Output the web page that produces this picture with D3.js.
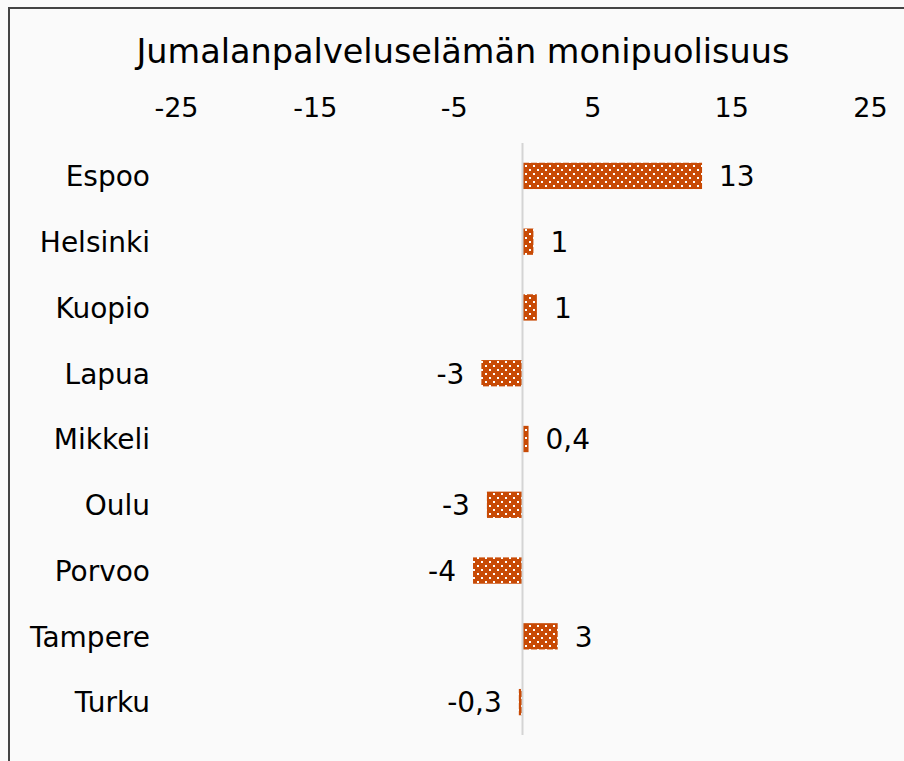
<!DOCTYPE html>
<html lang="fi">
<head>
    <meta charset="UTF-8">
    <title>Jumalanpalveluselämän monipuolisuus</title>
    <script src="https://d3js.org/d3.v7.min.js"></script>
    <style>
        html, body {
            margin: 0;
            padding: 0;
            background: #fafafa;
            overflow: hidden;
        }
        svg text {
            font-family: "DejaVu Sans", Verdana, sans-serif;
            fill: #000;
        }
    </style>
</head>
<body>
    <svg id="chart" width="904" height="761"></svg>

    <script>
        // Data
        const cities = ["Espoo", "Helsinki", "Kuopio", "Lapua", "Mikkeli", "Oulu", "Porvoo", "Tampere", "Turku"];
        const values = [12.9, 0.75, 1.0, -3.0, 0.4, -2.6, -3.6, 2.5, -0.3];
        const valueLabels = ["13", "1", "1", "-3", "0,4", "-3", "-4", "3", "-0,3"];
        const xTicks = [-25, -15, -5, 5, 15, 25];
        const title = "Jumalanpalveluselämän monipuolisuus";

        const data = cities.map((c, i) => ({ city: c, value: values[i], label: valueLabels[i] }));

        const svg = d3.select("#chart");

        // Outer frame (right and bottom edges fall outside the picture)
        svg.append("rect")
            .attr("x", 9)
            .attr("y", 8)
            .attr("width", 1000)
            .attr("height", 1000)
            .attr("fill", "#fafafa")
            .attr("stroke", "#444")
            .attr("stroke-width", 2);

        // Dotted fill for the bars
        const pattern = svg.append("defs").append("pattern")
            .attr("id", "dots")
            .attr("patternUnits", "userSpaceOnUse")
            .attr("width", 8)
            .attr("height", 8);
        pattern.append("rect").attr("width", 8).attr("height", 8).attr("fill", "#c84a05");
        pattern.append("rect").attr("x", 1).attr("y", 1).attr("width", 2).attr("height", 2).attr("fill", "#fff");
        pattern.append("rect").attr("x", 5).attr("y", 5).attr("width", 2).attr("height", 2).attr("fill", "#fff");

        // Scales
        const x = d3.scaleLinear().domain([-25, 25]).range([176, 870]);
        const y = d3.scaleBand().domain(cities).range([143, 735]).paddingInner(0.6).paddingOuter(0.3);

        // Title
        svg.append("text")
            .attr("x", 463)
            .attr("y", 63)
            .attr("text-anchor", "middle")
            .style("font-size", "33.5px")
            .text(title);

        // Top value axis (labels only)
        const xAxis = svg.append("g")
            .attr("transform", "translate(0,117)")
            .call(d3.axisTop(x).tickValues(xTicks).tickSize(0).tickPadding(0).tickFormat(d => d));
        xAxis.select(".domain").remove();
        xAxis.selectAll("text")
            .attr("dy", 0)
            .style("font-size", "27px")
            .style("font-family", "'DejaVu Sans', Verdana, sans-serif")
            .attr("fill", "#000");

        // Category axis
        const yAxis = svg.append("g")
            .attr("transform", "translate(150,0)")
            .call(d3.axisLeft(y).tickSize(0).tickPadding(0));
        yAxis.select(".domain").remove();
        yAxis.selectAll("text")
            .attr("dy", "0.37em")
            .style("font-size", "28px")
            .style("font-family", "'DejaVu Sans', Verdana, sans-serif")
            .attr("fill", "#000");

        // Bars
        svg.selectAll("rect.bar")
            .data(data)
            .enter().append("rect")
            .attr("class", "bar")
            .attr("x", d => x(Math.min(0, d.value)))
            .attr("y", d => y(d.city))
            .attr("width", d => Math.abs(x(d.value) - x(0)))
            .attr("height", y.bandwidth())
            .attr("fill", "url(#dots)");

        // Zero line
        svg.append("line")
            .attr("x1", x(0) - 0.5)
            .attr("x2", x(0) - 0.5)
            .attr("y1", y.range()[0])
            .attr("y2", y.range()[1])
            .attr("stroke", "#d4d4d4")
            .attr("stroke-width", 2);

        // Value labels
        svg.selectAll("text.value")
            .data(data)
            .enter().append("text")
            .attr("class", "value")
            .attr("x", d => d.value >= 0 ? x(d.value) + 17 : x(d.value) - 17)
            .attr("y", d => y(d.city) + y.bandwidth() / 2)
            .attr("dy", "0.37em")
            .attr("text-anchor", d => d.value >= 0 ? "start" : "end")
            .style("font-size", "28px")
            .text(d => d.label);
    </script>
</body>
</html>
